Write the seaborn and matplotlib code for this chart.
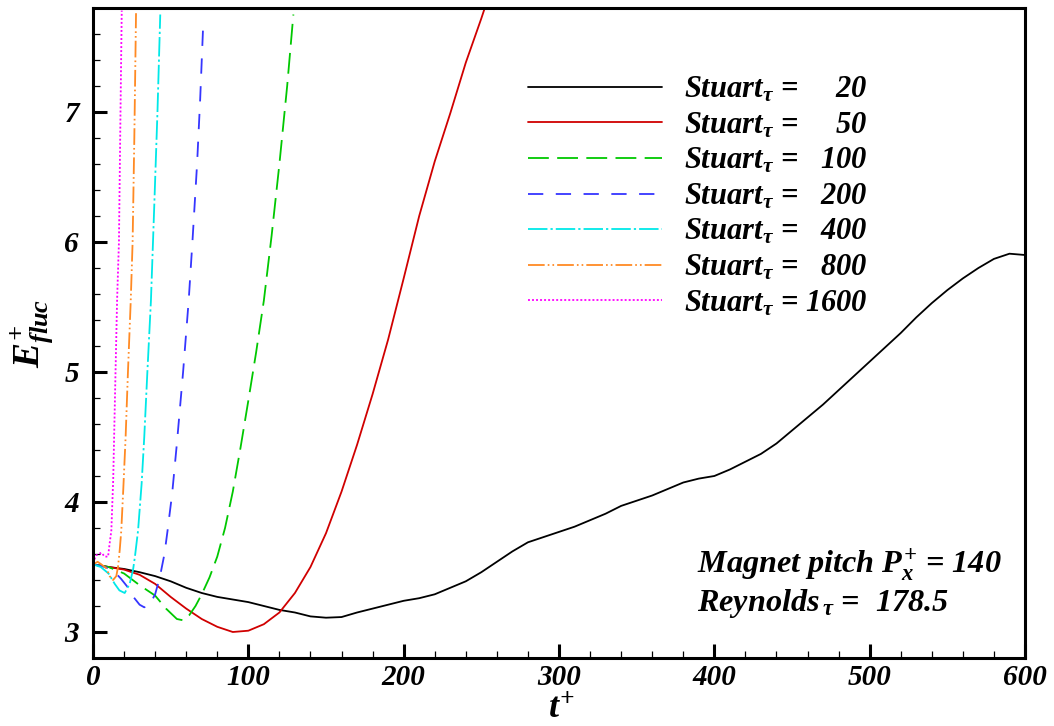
import matplotlib
matplotlib.use("Agg")
import matplotlib.pyplot as plt
from matplotlib.ticker import MultipleLocator
import seaborn as sns
import pandas as pd

# ---------------- data ----------------
t_st20 = [0, 10, 20, 30, 40, 50, 60, 70, 80, 90, 100, 110, 120, 130, 140, 150, 160, 170,
          180, 190, 200, 210, 220, 230, 240, 250, 260, 270, 280, 290, 300, 310, 320, 330,
          340, 350, 360, 370, 380, 390, 400, 410, 420, 430, 440, 450, 460, 470, 480, 490,
          500, 510, 520, 530, 540, 550, 560, 570, 580, 590, 600]
e_st20 = [3.52, 3.50, 3.485, 3.46, 3.43, 3.39, 3.34, 3.30, 3.27, 3.25, 3.23, 3.20, 3.17,
          3.15, 3.12, 3.11, 3.115, 3.15, 3.18, 3.21, 3.24, 3.26, 3.29, 3.34, 3.39, 3.46,
          3.54, 3.62, 3.69, 3.73, 3.77, 3.81, 3.86, 3.91, 3.97, 4.01, 4.05, 4.10, 4.15,
          4.18, 4.20, 4.25, 4.31, 4.37, 4.45, 4.55, 4.65, 4.75, 4.86, 4.97, 5.08, 5.19,
          5.30, 5.42, 5.53, 5.63, 5.72, 5.80, 5.87, 5.91, 5.90]

t_st50 = [0, 10, 20, 30, 40, 50, 60, 70, 80, 90, 100, 110, 120, 130, 140, 150, 160, 170,
          180, 190, 200, 210, 220, 230, 240, 250, 255]
e_st50 = [3.52, 3.50, 3.48, 3.44, 3.37, 3.27, 3.18, 3.10, 3.04, 3.00, 3.01, 3.06, 3.15,
          3.30, 3.50, 3.76, 4.08, 4.44, 4.83, 5.25, 5.72, 6.20, 6.62, 6.99, 7.38, 7.72, 7.90]

t_st100 = [0, 10, 20, 30, 40, 47, 54, 58, 62, 66, 70, 75, 80, 85, 90, 95, 100, 105, 110,
           115, 120, 125, 129]
e_st100 = [3.52, 3.50, 3.45, 3.36, 3.28, 3.18, 3.10, 3.09, 3.13, 3.20, 3.29, 3.42, 3.58,
           3.80, 4.08, 4.42, 4.78, 5.15, 5.55, 6.05, 6.60, 7.20, 7.75]

t_st200 = [0, 8, 14, 18, 22, 26, 30, 33, 36, 40, 43, 46, 48, 51, 54, 58, 61.6, 64, 67, 69, 71]
e_st200 = [3.52, 3.50, 3.46, 3.41, 3.35, 3.27, 3.21, 3.19, 3.20, 3.29, 3.42, 3.60, 3.78,
           4.07, 4.45, 5.00, 5.55, 6.00, 6.60, 7.10, 7.69]

t_st400 = [0, 5, 10, 14, 17, 20.4, 23.6, 25.8, 27, 29, 31.3, 33, 35, 37.3, 39.5, 41.5, 43.3]
e_st400 = [3.52, 3.50, 3.45, 3.37, 3.32, 3.30, 3.37, 3.48, 3.58, 3.78, 4.14, 4.50, 5.00,
           5.55, 6.30, 7.00, 7.75]

t_st800 = [0, 3, 5.4, 8.6, 10.7, 12.9, 15, 16.1, 17.2, 18.2, 19.5, 21, 22.5, 24.3, 25.5,
           26.6, 27.7]
e_st800 = [3.52, 3.54, 3.52, 3.49, 3.43, 3.40, 3.43, 3.50, 3.63, 3.78, 4.10, 4.50, 5.00,
           5.55, 6.00, 6.80, 7.76]

t_st1600 = [0, 2, 5.4, 7.5, 9.7, 10.7, 11.8, 13, 14.5, 15.5, 16.7, 17.6, 18.5]
e_st1600 = [3.53, 3.59, 3.61, 3.58, 3.58, 3.68, 3.78, 4.17, 5.00, 5.55, 6.00, 6.90, 7.78]

stuart_values = [20, 50, 100, 200, 400, 800, 1600]
legend_labels = ["Stuart$_\\tau$ =     20", "Stuart$_\\tau$ =     50",
                 "Stuart$_\\tau$ =   100", "Stuart$_\\tau$ =   200",
                 "Stuart$_\\tau$ =   400", "Stuart$_\\tau$ =   800",
                 "Stuart$_\\tau$ = 1600"]
x_label = "$t^{+}$"
y_label = "$E^{+}_{fluc}$"
note_1 = "Magnet pitch $P^{+}_{x}$ = 140"
note_2 = "Reynolds$_{\\,\\tau}$ =  178.5"

series_t = [t_st20, t_st50, t_st100, t_st200, t_st400, t_st800, t_st1600]
series_e = [e_st20, e_st50, e_st100, e_st200, e_st400, e_st800, e_st1600]

# ---------------- styles ----------------
colors = ["#000000", "#d00000", "#00c800", "#3535ff", "#00e8e8", "#ff8a24", "#ff00ff"]
dash_patterns = [None, None, (15, 6), (11, 9), (14, 2.2, 1.6, 2.2),
                 (12, 2.2, 1.2, 2.2, 1.2, 2.2), (1.4, 1.5)]

sns.set_theme(style="white")
plt.rcParams.update({
    "font.family": ["Liberation Serif", "DejaVu Serif"],
    "font.weight": "bold",
    "font.style": "italic",
    "mathtext.fontset": "custom",
    "mathtext.it": "Liberation Serif:bold:italic",
    "mathtext.rm": "Liberation Serif:bold:italic",
    "mathtext.bf": "Liberation Serif:bold:italic",
    "mathtext.default": "it",
    "lines.scale_dashes": False,
    "axes.edgecolor": "black",
    "text.color": "black",
    "axes.labelcolor": "black",
    "xtick.color": "black",
    "ytick.color": "black",
})

fig = plt.figure(figsize=(10.54, 7.26), dpi=100)
ax = fig.add_axes([93 / 1054, 1 - 658 / 726, (1025 - 93) / 1054, (658 - 8) / 726])

handles = []
for st, tt, ee, c, d in zip(stuart_values, series_t, series_e, colors, dash_patterns):
    df = pd.DataFrame({"t": tt, "E": ee})
    sns.lineplot(data=df, x="t", y="E", ax=ax, color=c, lw=1.3, sort=False,
                 estimator=None, legend=False)
    line = ax.lines[-1]
    if d is not None:
        line.set_dashes(d)
    handles.append(line)

ax.set_xlim(0, 600)
ax.set_ylim(2.8, 7.8)
ax.xaxis.set_major_locator(MultipleLocator(100))
ax.xaxis.set_minor_locator(MultipleLocator(20))
ax.yaxis.set_major_locator(MultipleLocator(1))
ax.yaxis.set_minor_locator(MultipleLocator(0.2))
ax.tick_params(axis="both", which="major", direction="in", length=10, width=2.2,
               labelsize=21, pad=4, color="black", labelcolor="black",
               left=True, bottom=True)
ax.tick_params(axis="y", which="major", pad=10)
ax.tick_params(axis="both", which="minor", direction="in", length=5, width=0.9,
               color="black", left=True, bottom=True)
ax.tick_params(top=False, right=False, which="both")
for sp in ax.spines.values():
    sp.set_linewidth(2.2)
    sp.set_color("black")
ax.grid(False)

ax.set_xlabel(x_label, fontsize=26)
ax.xaxis.set_label_coords(0.503, -0.0938)
ax.xaxis.label.set_verticalalignment("baseline")
ax.set_ylabel(y_label, fontsize=27, labelpad=6)

leg = ax.legend(handles, legend_labels, loc="upper left",
                bbox_to_anchor=((528 - 93) / 932, (658 - 75) / 650),
                frameon=False, fontsize=22, handlelength=4.4, handletextpad=0.72,
                labelspacing=0.2, borderpad=0, borderaxespad=0)
for txt in leg.get_texts():
    txt.set_fontweight("bold")
    txt.set_fontstyle("italic")
    txt.set_color("black")

ax.text((697 - 93) / 932, (658 - 573) / 650, note_1, transform=ax.transAxes,
        fontsize=23.2, va="baseline", ha="left", color="black")
ax.text((697 - 93) / 932, (658 - 611) / 650, note_2, transform=ax.transAxes,
        fontsize=23.2, va="baseline", ha="left", color="black")

fig.savefig("out.png", dpi=100)
